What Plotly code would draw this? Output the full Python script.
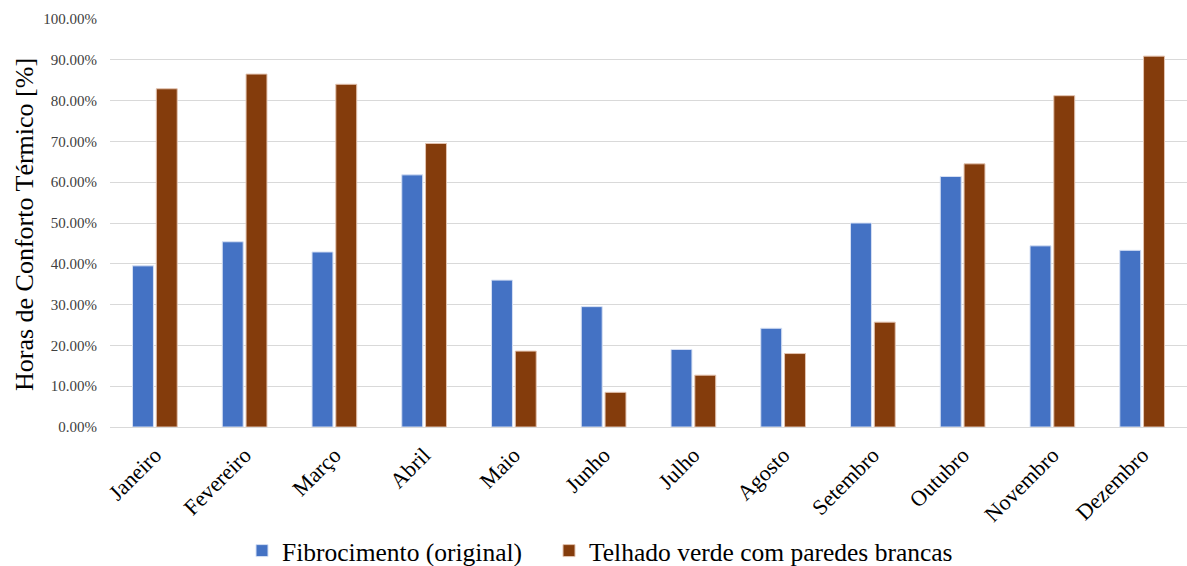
import plotly.graph_objects as go

meses = ["Janeiro", "Fevereiro", "Março", "Abril", "Maio", "Junho",
         "Julho", "Agosto", "Setembro", "Outubro", "Novembro", "Dezembro"]

fibrocimento = [0.395, 0.454, 0.429, 0.618, 0.360, 0.295,
                0.190, 0.242, 0.500, 0.614, 0.444, 0.433]

telhado_verde = [0.829, 0.865, 0.840, 0.695, 0.186, 0.085,
                 0.127, 0.180, 0.257, 0.645, 0.812, 0.909]

y_ticks = [i / 10 for i in range(11)]

serif = "Liberation Serif"

fig = go.Figure()
fig.add_trace(go.Bar(
    name="Fibrocimento (original)",
    x=meses, y=fibrocimento, legend="legend",
    marker=dict(color="#4472C4", line=dict(color="#D6E0F4", width=1)),
))
fig.add_trace(go.Bar(
    name="Telhado verde com paredes brancas",
    x=meses, y=telhado_verde, legend="legend2",
    marker=dict(color="#843C0C", line=dict(color="#E3C3B0", width=1)),
))

# vertical axis title placed explicitly beside the tick labels
fig.add_annotation(
    text="Horas de Conforto Térmico [%]",
    xref="paper", yref="paper", x=(24 - 110) / 1077, y=0.495,
    xanchor="center", yanchor="middle", textangle=-90, showarrow=False,
    font=dict(family=serif, size=26, color="#000000"),
)

legend_style = dict(
    orientation="h", xanchor="left", y=-0.304, yanchor="middle",
    font=dict(family=serif, size=25.5, color="#000000"),
    itemwidth=30, bgcolor="rgba(0,0,0,0)",
)

fig.update_layout(
    width=1187, height=566,
    margin=dict(l=110, r=0, t=19, b=139, autoexpand=False),
    paper_bgcolor="white", plot_bgcolor="white",
    barmode="group", bargap=0.47, bargroupgap=0.12,
    font=dict(family=serif, color="#000000"),
    showlegend=True,
    legend=dict(x=(242 - 110) / 1077, **legend_style),
    legend2=dict(x=(549 - 110) / 1077, **legend_style),
    xaxis=dict(
        tickangle=-45, tickfont=dict(family=serif, size=22, color="#000000"),
        showgrid=False, showline=False, ticks="",
        range=[-0.5, 11.5], automargin=False, ticklabelstandoff=10,
    ),
    yaxis=dict(
        range=[0, 1], tickvals=y_ticks, tickformat=".2%",
        tickfont=dict(family=serif, size=15, color="#404040"),
        showgrid=True, gridcolor="#D9D9D9", gridwidth=1,
        zeroline=True, zerolinecolor="#D9D9D9", zerolinewidth=1,
        showline=False, ticks="", ticklabelstandoff=12, automargin=False,
    ),
)

fig.write_html("out.html")
